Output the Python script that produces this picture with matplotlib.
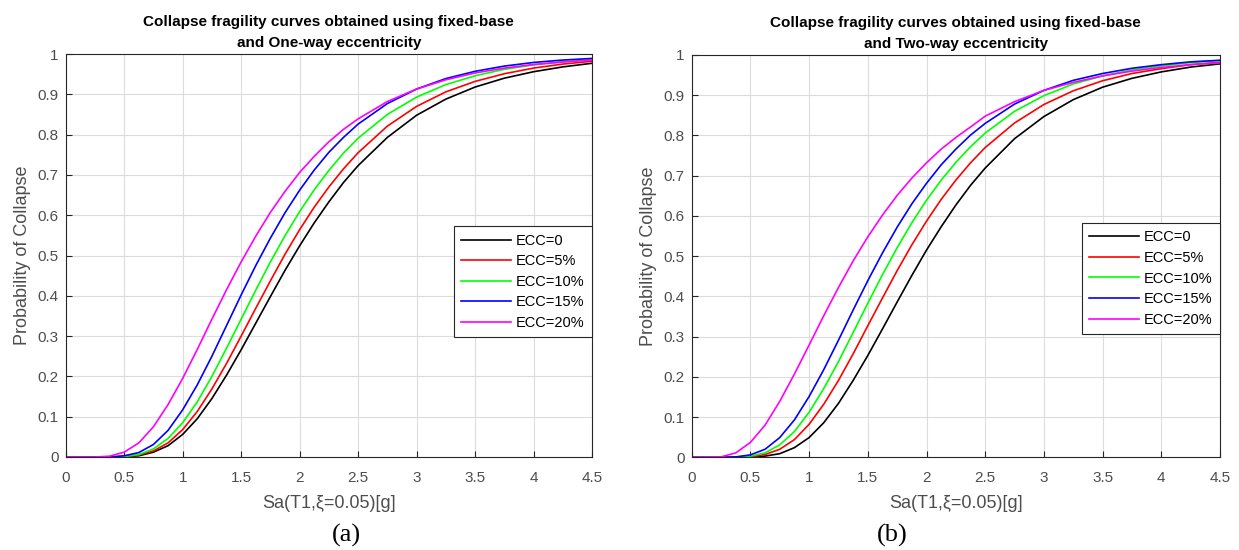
import matplotlib
matplotlib.use("Agg")
import matplotlib.pyplot as plt

plt.rcParams['font.family'] = ['Liberation Sans', 'DejaVu Sans']

# Spectral acceleration Sa(T1, xi=0.05) [g]
sa = [0.0, 0.25, 0.375, 0.5, 0.625, 0.75, 0.875, 1.0, 1.125, 1.25, 1.375, 1.5,
      1.625, 1.75, 1.875, 2.0, 2.125, 2.25, 2.375, 2.5, 2.75, 3.0, 3.25, 3.5,
      3.75, 4.0, 4.25, 4.5]

labels = ["ECC=0", "ECC=5%", "ECC=10%", "ECC=15%", "ECC=20%"]
colors = ["#000000", "#ff0000", "#00ff00", "#0000ff", "#ff00ff"]

# (a) One-way eccentricity
one_ecc0 = [0, 0.000, 0.000, 0.001, 0.003, 0.012, 0.028, 0.056, 0.095, 0.145, 0.203, 0.266,
            0.332, 0.398, 0.463, 0.524, 0.581, 0.633, 0.681, 0.723, 0.793, 0.848, 0.888, 0.918,
            0.940, 0.956, 0.968, 0.977]
one_ecc5 = [0, 0.000, 0.000, 0.001, 0.005, 0.015, 0.035, 0.068, 0.113, 0.169, 0.232, 0.300,
            0.369, 0.437, 0.503, 0.564, 0.620, 0.670, 0.715, 0.755, 0.821, 0.870, 0.906, 0.932,
            0.951, 0.965, 0.975, 0.982]
one_ecc10 = [0, 0.000, 0.000, 0.001, 0.006, 0.020, 0.046, 0.085, 0.137, 0.200, 0.270, 0.342,
             0.414, 0.484, 0.549, 0.609, 0.663, 0.711, 0.754, 0.791, 0.850, 0.893, 0.924, 0.946,
             0.962, 0.973, 0.981, 0.986]
one_ecc15 = [0, 0.000, 0.000, 0.003, 0.011, 0.031, 0.066, 0.117, 0.179, 0.250, 0.326, 0.402,
             0.475, 0.543, 0.606, 0.662, 0.712, 0.756, 0.793, 0.826, 0.877, 0.913, 0.939, 0.957,
             0.970, 0.979, 0.985, 0.989]
one_ecc20 = [0, 0.000, 0.002, 0.012, 0.035, 0.075, 0.130, 0.195, 0.267, 0.342, 0.415, 0.484,
             0.548, 0.607, 0.659, 0.706, 0.746, 0.782, 0.813, 0.839, 0.882, 0.913, 0.936, 0.953,
             0.965, 0.974, 0.980, 0.985]

# (b) Two-way eccentricity
two_ecc0 = [0, 0.000, 0.000, 0.000, 0.003, 0.009, 0.024, 0.049, 0.086, 0.134, 0.191, 0.253,
            0.319, 0.386, 0.452, 0.515, 0.573, 0.627, 0.676, 0.719, 0.792, 0.847, 0.889, 0.920,
            0.942, 0.958, 0.970, 0.978]
two_ecc5 = [0, 0.000, 0.000, 0.001, 0.007, 0.020, 0.044, 0.082, 0.132, 0.191, 0.257, 0.327,
            0.396, 0.464, 0.528, 0.587, 0.641, 0.689, 0.732, 0.770, 0.831, 0.877, 0.911, 0.936,
            0.954, 0.966, 0.976, 0.982]
two_ecc10 = [0, 0.000, 0.000, 0.003, 0.011, 0.031, 0.064, 0.112, 0.171, 0.238, 0.310, 0.383,
             0.454, 0.521, 0.583, 0.639, 0.689, 0.733, 0.772, 0.806, 0.860, 0.899, 0.928, 0.948,
             0.963, 0.973, 0.981, 0.986]
two_ecc15 = [0, 0.000, 0.001, 0.006, 0.020, 0.049, 0.093, 0.151, 0.218, 0.291, 0.366, 0.439,
             0.508, 0.572, 0.630, 0.681, 0.727, 0.766, 0.801, 0.830, 0.878, 0.912, 0.937, 0.954,
             0.967, 0.976, 0.983, 0.987]
two_ecc20 = [0, 0.001, 0.011, 0.037, 0.080, 0.139, 0.207, 0.279, 0.352, 0.422, 0.488, 0.548,
             0.602, 0.651, 0.694, 0.732, 0.766, 0.795, 0.821, 0.848, 0.884, 0.912, 0.932, 0.948,
             0.960, 0.969, 0.976, 0.981]

panels = [
    ("Collapse fragility curves obtained using fixed-base\nand One-way eccentricity",
     [one_ecc0, one_ecc5, one_ecc10, one_ecc15, one_ecc20], "(a)"),
    ("Collapse fragility curves obtained using fixed-base\nand Two-way eccentricity",
     [two_ecc0, two_ecc5, two_ecc10, two_ecc15, two_ecc20], "(b)"),
]

xticks = [0, 0.5, 1, 1.5, 2, 2.5, 3, 3.5, 4, 4.5]
xticklabels = ["0", "0.5", "1", "1.5", "2", "2.5", "3", "3.5", "4", "4.5"]
yticks = [0, 0.1, 0.2, 0.3, 0.4, 0.5, 0.6, 0.7, 0.8, 0.9, 1]
yticklabels = ["0", "0.1", "0.2", "0.3", "0.4", "0.5", "0.6", "0.7", "0.8", "0.9", "1"]

W, H = 1239, 550
fig = plt.figure(figsize=(W / 100, H / 100), dpi=100)

rects = [(65.7, 54, 592, 457), (691.7, 55, 1220, 457.3)]
legend_tops = [0.572, 0.582]
caption_x = [346, 892]

txtgray = "#4d4d4d"
for (title, series, cap), (x0, y0, x1, y1), ltop, cx in zip(panels, rects, legend_tops, caption_x):
    ax = fig.add_axes([x0 / W, 1 - y1 / H, (x1 - x0) / W, (y1 - y0) / H])
    for vals, lab, col in zip(series, labels, colors):
        ax.plot(sa, vals, color=col, lw=1.2, label=lab)
    ax.set_xlim(0, 4.5)
    ax.set_ylim(0, 1)
    ax.set_xticks(xticks)
    ax.set_xticklabels(xticklabels)
    ax.set_yticks(yticks)
    ax.set_yticklabels(yticklabels)
    ax.grid(True, color="#dcdcdc", lw=0.8)
    ax.set_axisbelow(True)
    ax.tick_params(direction="in", length=4, width=0.8, colors="#262626",
                   labelcolor=txtgray, labelsize=11, top=False, right=False)
    ax.tick_params(axis="x", pad=10)
    ax.tick_params(axis="y", pad=5)
    for s in ax.spines.values():
        s.set_color("#262626")
        s.set_linewidth(0.8)
    ax.set_title(title, fontsize=11, fontweight="bold", color="#000000", pad=5, linespacing=1.6)
    ax.set_xlabel("Sa(T1,ξ=0.05)[g]", fontsize=13, color=txtgray, labelpad=7)
    ax.set_ylabel("Probability of Collapse", fontsize=13, color=txtgray, labelpad=5)
    leg = ax.legend(loc="upper right", bbox_to_anchor=(1.0, ltop), fontsize=10.5,
                    frameon=True, fancybox=False, framealpha=1, edgecolor="#262626",
                    borderaxespad=0, handlelength=3.4, handletextpad=0.35,
                    labelspacing=0.45, borderpad=0.5)
    leg.get_frame().set_linewidth(0.8)
    fig.text(cx / W, 1 - 535 / H, cap, ha="center", va="center",
             fontsize=19, family="Liberation Serif", color="black")

fig.savefig("out.png", dpi=100)
